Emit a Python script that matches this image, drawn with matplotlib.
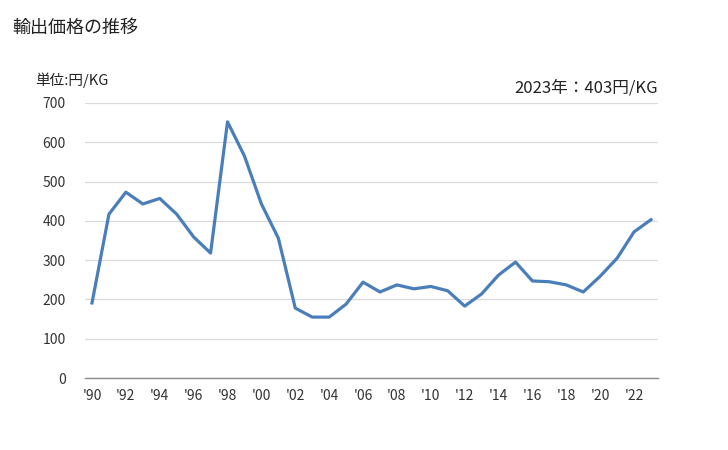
import matplotlib
matplotlib.use("Agg")
import matplotlib.pyplot as plt

plt.rcParams['font.family'] = ['Noto Sans CJK JP', 'DejaVu Sans']

years = list(range(1990, 2024))
values = [191, 417, 473, 443, 457, 417, 359, 318, 652, 565, 443, 356,
          178, 155, 155, 188, 244, 219, 237, 227, 233, 222, 183, 214,
          262, 295, 247, 245, 237, 219, 259, 305, 372, 403]
tick_years = list(range(1990, 2024, 2))
tick_labels = ["'" + str(y)[2:] for y in tick_years]
yticks = [0, 100, 200, 300, 400, 500, 600, 700]

fig = plt.figure(figsize=(7.28, 4.5), dpi=100)
ax = fig.add_axes([85/728, 1-378/450, (658-85)/728, (378-103)/450])
ax.plot(years, values, color='#4a7ebb', linewidth=2.3, solid_joinstyle='round')
ax.set_xlim(1990 - 7/16.94, 2023 + 7/16.94)
ax.set_ylim(0, 700)
ax.set_yticks(yticks)
ax.set_yticklabels([str(v) for v in yticks])
ax.set_xticks(tick_years)
ax.set_xticklabels(tick_labels)
ax.grid(axis='y', color='#d9d9d9', linewidth=0.9)
ax.set_axisbelow(True)
for s in ['top', 'right', 'left']:
    ax.spines[s].set_visible(False)
ax.spines['bottom'].set_color('#898989')
ax.spines['bottom'].set_linewidth(1.0)
ax.tick_params(axis='both', length=0, labelsize=10, colors='#333333')
ax.tick_params(axis='y', pad=14)
ax.tick_params(axis='x', pad=8)

fig.text(12/728, 1-28/450, '輸出価格の推移', fontsize=13, va='center', ha='left', color='#222222')
fig.text(35/728, 1-80/450, '単位:円/KG', fontsize=10.5, va='center', ha='left', color='#222222')
fig.text(658/728, 1-88/450, '2023年：403円/KG', fontsize=12, va='center', ha='right', color='#222222')

fig.savefig('out.png', dpi=100)
